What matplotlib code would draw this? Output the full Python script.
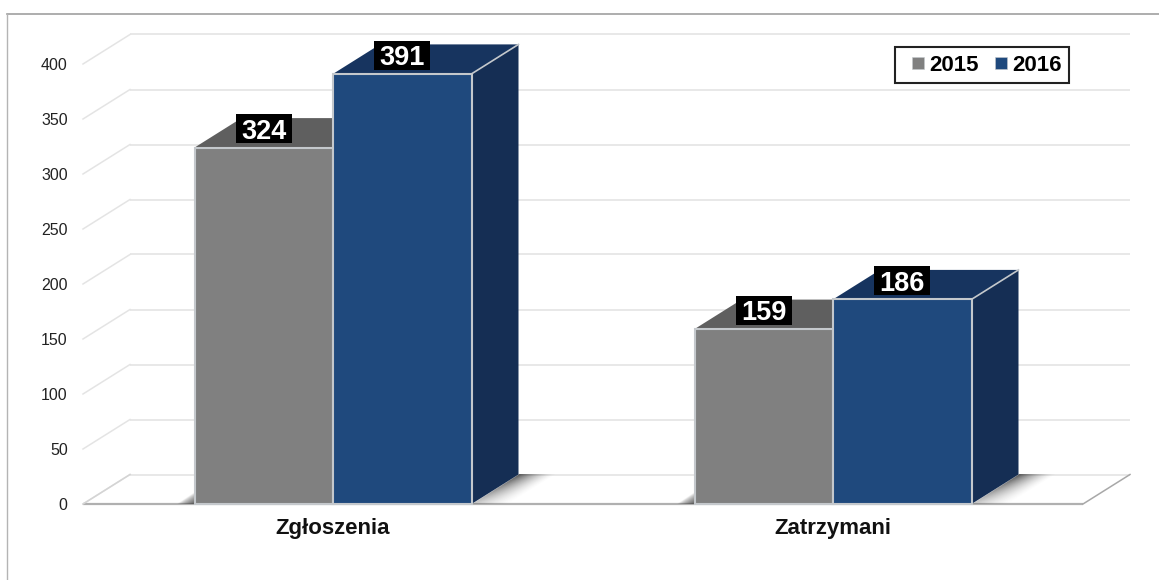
import numpy as np
import matplotlib
matplotlib.use("Agg")
import matplotlib.pyplot as plt
from matplotlib.patches import Polygon, Rectangle
from matplotlib.lines import Line2D

categories = ["Zgłoszenia", "Zatrzymani"]
series_names = ["2015", "2016"]
values_2015 = [324, 159]
values_2016 = [391, 186]
y_ticks = [0, 50, 100, 150, 200, 250, 300, 350, 400]

FRONT = {"2015": "#808080", "2016": "#1f497d"}
TOP = {"2015": "#5f5f5f", "2016": "#17345f"}
SIDE = {"2015": "#5f5f5f", "2016": "#152e54"}
EDGE = "#c4c8cc"
BAR_W = 0.277
DX = 47 / 500
DY = 29.5 / 1.1
BOX_W = 56 / 500
BOX_H = 29 / 1.1

plt.rcParams["font.family"] = ["Liberation Sans", "DejaVu Sans"]
W, H = 1159, 580
fig = plt.figure(figsize=(W / 100, H / 100), dpi=100, facecolor="white")
ax = fig.add_axes([83 / W, (H - 504) / H, 1000 / W, 440 / H])
ax.set_facecolor("none")
XLIM = (-0.5, 1.5)
YLIM = (0, 400)

# outer frame of the picture
fig.add_artist(Line2D([7 / W, 1], [1 - 14 / H, 1 - 14 / H], color="#a0a0a0", lw=1.2))
fig.add_artist(Line2D([7 / W, 7 / W], [0, 1 - 14 / H], color="#b4b4b4", lw=1.0))

# back wall grid and left wall
for v in y_ticks:
    ax.plot([XLIM[0] + DX, XLIM[1] + DX], [v + DY, v + DY], color="#e8e8e8", lw=1.4,
            clip_on=False, zorder=1, solid_capstyle="butt")
    ax.plot([XLIM[0], XLIM[0] + DX], [v, v + DY], color="#e4e4e4", lw=1.1,
            clip_on=False, zorder=1)

# floor outline
ax.plot([XLIM[0], XLIM[1]], [0, 0], color="#b0b0b0", lw=1.6, clip_on=False, zorder=1.5,
        solid_capstyle="butt")
ax.plot([XLIM[1], XLIM[1] + DX], [0, DY], color="#a8a8a8", lw=1.1, clip_on=False, zorder=1.5)
ax.plot([XLIM[0], XLIM[0] + DX], [0, DY], color="#d4d4d4", lw=1.1, clip_on=False, zorder=1.5)

# soft floor shadows, computed from each bar group's edges
for i in range(len(categories)):
    left, right = i - BAR_W, i + BAR_W
    xs = np.linspace(right, right + DX + 0.09, 200)
    ys = np.linspace(0, DY, 60)
    X, Y = np.meshgrid(xs, ys)
    t = Y / DY
    d = (X - right - t * DX) / 0.075
    a = np.where(d >= 0, np.clip(1 - d, 0, 1) ** 1.4, 0) * (0.3 + 0.65 * t)
    rgba = np.zeros(X.shape + (4,))
    rgba[..., :3] = 0.3
    rgba[..., 3] = a
    ax.imshow(rgba, extent=(xs[0], xs[-1], 0, DY), origin="lower", aspect="auto",
              zorder=2, clip_on=False, interpolation="bilinear")
    xs = np.linspace(left - 0.036, left, 40)
    ys = np.linspace(0, DY * 0.4, 30)
    X, Y = np.meshgrid(xs, ys)
    t = Y / (DY * 0.4)
    d = (left - X) / 0.036
    a = np.clip(1 - d - t, 0, 1) ** 0.7 * 0.9
    rgba = np.zeros(X.shape + (4,))
    rgba[..., :3] = 0.3
    rgba[..., 3] = a
    ax.imshow(rgba, extent=(xs[0], xs[-1], 0, DY * 0.4), origin="lower", aspect="auto",
              zorder=2, clip_on=False, interpolation="bilinear")

# 3-D bars
for name, vals, off in zip(series_names, [values_2015, values_2016], [-BAR_W / 2, BAR_W / 2]):
    for i, v in enumerate(vals):
        xc = i + off
        x0, x1 = xc - BAR_W / 2, xc + BAR_W / 2
        z = 3 if name == "2015" else 4
        ax.add_patch(Polygon([(x0, v), (x1, v), (x1 + DX, v + DY), (x0 + DX, v + DY)],
                             facecolor=TOP[name], edgecolor="none", clip_on=False, zorder=z))
        ax.add_patch(Polygon([(x1, 0), (x1 + DX, DY), (x1 + DX, v + DY), (x1, v)],
                             facecolor=SIDE[name], edgecolor="none", clip_on=False, zorder=z))
        ax.bar(xc, v, width=BAR_W, color=FRONT[name], edgecolor=EDGE, linewidth=1.5,
               clip_on=False, zorder=z + 0.1)
        ax.plot([x1, x1 + DX], [v, v + DY], color=EDGE, lw=1.2, clip_on=False, zorder=z + 0.1)
        yc = v + 17
        ax.add_patch(Rectangle((xc - BOX_W / 2, yc - BOX_H / 2), BOX_W, BOX_H, facecolor="black",
                               edgecolor="none", clip_on=False, zorder=5.5))
        ax.text(xc, yc, str(v), ha="center", va="center_baseline", color="white",
                fontsize=19.5, fontweight="bold", zorder=6, clip_on=False)

ax.set_xlim(XLIM)
ax.set_ylim(YLIM)
ax.set_xticks(range(len(categories)), categories, fontsize=16, fontweight="bold", color="#111111")
ax.set_yticks(y_ticks, [str(v) for v in y_ticks], fontsize=11.5, color="#222222")
ax.tick_params(axis="both", length=0)
ax.tick_params(axis="y", pad=11)
ax.tick_params(axis="x", pad=10)
for s in ax.spines.values():
    s.set_visible(False)

handles = [Line2D([], [], linestyle="none", marker="s", markersize=8, markerfacecolor=FRONT[n],
                  markeredgecolor=EDGE, markeredgewidth=0.4, label=n) for n in series_names]
leg = ax.legend(handles=handles, ncol=2, loc="upper left", numpoints=1,
                bbox_to_anchor=((895 - 83) / 1000, (504 - 47) / 440), borderaxespad=0,
                frameon=True, fancybox=False, edgecolor="#222222", framealpha=1,
                handlelength=1.4, handleheight=0.7, handletextpad=-0.2, columnspacing=0.29,
                borderpad=0.34, prop={"size": 16, "weight": "bold"})
leg.get_frame().set_linewidth(1.5)
leg.set_zorder(7)

fig.savefig("out.png", dpi=100, facecolor="white")
